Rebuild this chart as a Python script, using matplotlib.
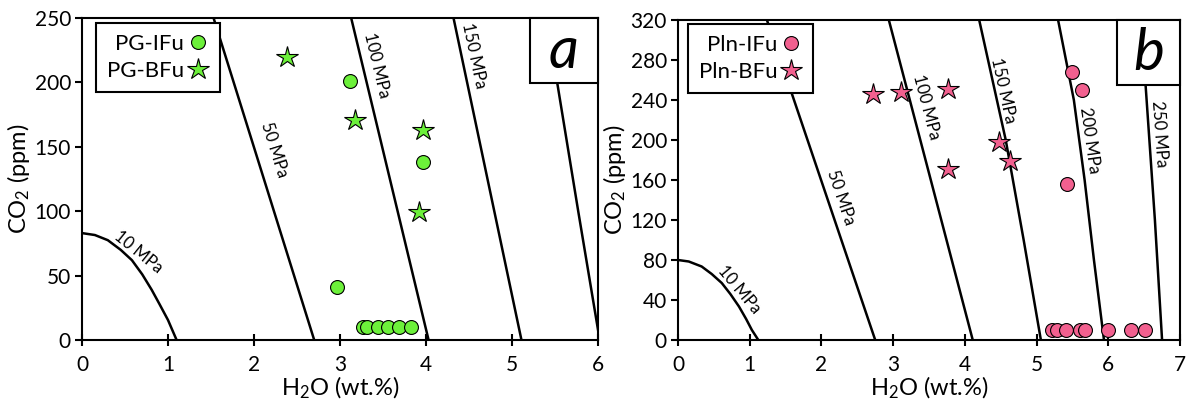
import numpy as np
import matplotlib.pyplot as plt
from matplotlib.patches import Rectangle

plt.rcParams['font.family'] = ['Lato', 'DejaVu Sans']
plt.rcParams['mathtext.default'] = 'regular'

#%% data

# panel a - PG
pg_ifu_x = [3.12, 3.97, 2.97, 3.27, 3.31, 3.44, 3.56, 3.69, 3.82]
pg_ifu_y = [201, 138, 41, 10, 10, 10, 10, 10, 10]
pg_bfu_x = [2.38, 3.18, 3.97, 3.92]
pg_bfu_y = [220, 171, 163, 99]

# panel b - Pln
pln_ifu_x = [5.50, 5.64, 5.42, 5.22, 5.28, 5.41, 5.61, 5.68, 5.99, 6.32, 6.51]
pln_ifu_y = [268, 250, 156, 10, 10, 10, 10, 10, 10, 10, 10]
pln_bfu_x = [2.72, 3.11, 3.76, 4.48, 4.63, 3.76]
pln_bfu_y = [246, 248, 251, 198, 179, 171]

# isobars panel a
iso_a = {
    '10 MPa': ([0, 0.15, 0.3, 0.45, 0.58, 0.7, 0.81, 0.9, 1.0, 1.1],
               [83, 81.5, 77.5, 70, 62, 51, 39, 28, 15.5, 0]),
    '50 MPa': ([1.53, 2.70], [250, 0]),
    '100 MPa': ([3.13, 4.03], [250, 0]),
    '150 MPa': ([4.32, 5.11], [250, 0]),
    '200 MPa': ([5.40, 5.53, 5.77, 5.92, 6.02], [250, 198, 100, 40, 0]),
}
# label positions (x, y, rotation)
iso_a_lab = {
    '10 MPa': (0.66, 68, -39),
    '50 MPa': (2.24, 148, -72.6),
    '100 MPa': (3.43, 213, -76.5),
    '150 MPa': (4.56, 221, -78),
}

# isobars panel b
iso_b = {
    '10 MPa': ([0, 0.15, 0.33, 0.47, 0.61, 0.73, 0.85, 0.95, 1.03, 1.12],
               [80, 78.5, 73.5, 66, 57, 46, 33.5, 21, 10, 0]),
    '50 MPa': ([1.24, 2.75], [320, 0]),
    '100 MPa': ([2.94, 4.11], [320, 0]),
    '150 MPa': ([4.20, 4.57, 4.82, 5.06], [320, 200, 100, 0]),
    '200 MPa': ([5.30, 5.52, 5.67, 5.80, 5.94], [320, 240, 160, 80, 0]),
    '250 MPa': ([6.45, 6.52, 6.65, 6.75], [320, 255, 120, 0]),
}
iso_b_lab = {
    '10 MPa': (0.86, 50, -50),
    '50 MPa': (2.27, 143, -71.4),
    '100 MPa': (3.46, 233, -75.3),
    '150 MPa': (4.54, 249, -77.5),
    '200 MPa': (5.74, 200, -82),
    '250 MPa': (6.71, 206, -86),
}

green = '#6cf03a'
pink = '#f2608f'

#%%

fig = plt.figure(figsize=(11.88, 4), dpi=100)
ax1 = fig.add_axes([82/1188, 60/400, 516/1188, 322/400])
ax2 = fig.add_axes([678/1188, 60/400, 502/1188, 320/400])


def setup(ax, xmax, ymax, yticks, iso, iso_lab, box_left, letter):
    for name, (xs, ys) in iso.items():
        ax.plot(xs, ys, color='black', lw=1.8, zorder=2)
    for name, (tx, ty, rot) in iso_lab.items():
        ax.text(tx, ty, name, rotation=rot, rotation_mode='anchor', ha='center',
                va='center', fontsize=12, zorder=3)
    ax.set_xlim(0, xmax)
    ax.set_ylim(0, ymax)
    ax.set_xticks(range(0, xmax + 1))
    ax.set_yticks(yticks)
    ax.tick_params(axis='x', direction='inout', length=9, width=1.5, labelsize=15, pad=6)
    ax.tick_params(axis='y', direction='out', length=5, width=1.5, labelsize=15, pad=3)
    for s in ax.spines.values():
        s.set_linewidth(1.5)
    ax.set_xlabel('H$_2$O (wt.%)', fontsize=17, labelpad=0)
    ax.set_ylabel('CO$_2$ (ppm)', fontsize=17, labelpad=2)
    ax.add_patch(Rectangle((box_left, 0.797), 1.0 - box_left, 0.203, transform=ax.transAxes,
                           facecolor='white', edgecolor='black', lw=1.5, zorder=5, clip_on=False))
    ax.text((box_left + 1.0) / 2, 0.895, letter, transform=ax.transAxes, ha='center',
            va='center', fontsize=42, style='italic', zorder=6)


setup(ax1, 6, 250, [0, 50, 100, 150, 200, 250], iso_a, iso_a_lab, 0.868, 'a')
setup(ax2, 7, 320, list(range(0, 321, 40)), iso_b, iso_b_lab, 0.875, 'b')

ax1.plot(pg_ifu_x, pg_ifu_y, 'o', color=green, mec='black', mew=0.8, ms=10, label='PG-IFu', zorder=4)
ax1.plot(pg_bfu_x, pg_bfu_y, '*', color=green, mec='black', mew=0.8, ms=16, label='PG-BFu', zorder=4)
ax2.plot(pln_ifu_x, pln_ifu_y, 'o', color=pink, mec='black', mew=0.8, ms=10, label='Pln-IFu', zorder=4)
ax2.plot(pln_bfu_x, pln_bfu_y, '*', color=pink, mec='black', mew=0.8, ms=16, label='Pln-BFu', zorder=4)

for ax, anchor in [(ax1, (0.027, 0.984)), (ax2, (0.02, 0.987))]:
    leg = ax.legend(loc='upper left', bbox_to_anchor=anchor, borderaxespad=0, markerfirst=False,
                    fontsize=16, fancybox=False, framealpha=1, handlelength=1.0,
                    handletextpad=0.1, borderpad=0.5, labelspacing=0.3)
    leg.get_frame().set_edgecolor('black')
    leg.get_frame().set_linewidth(1.5)
    leg.set_zorder(7)

fig.savefig('out.png', dpi=100)
